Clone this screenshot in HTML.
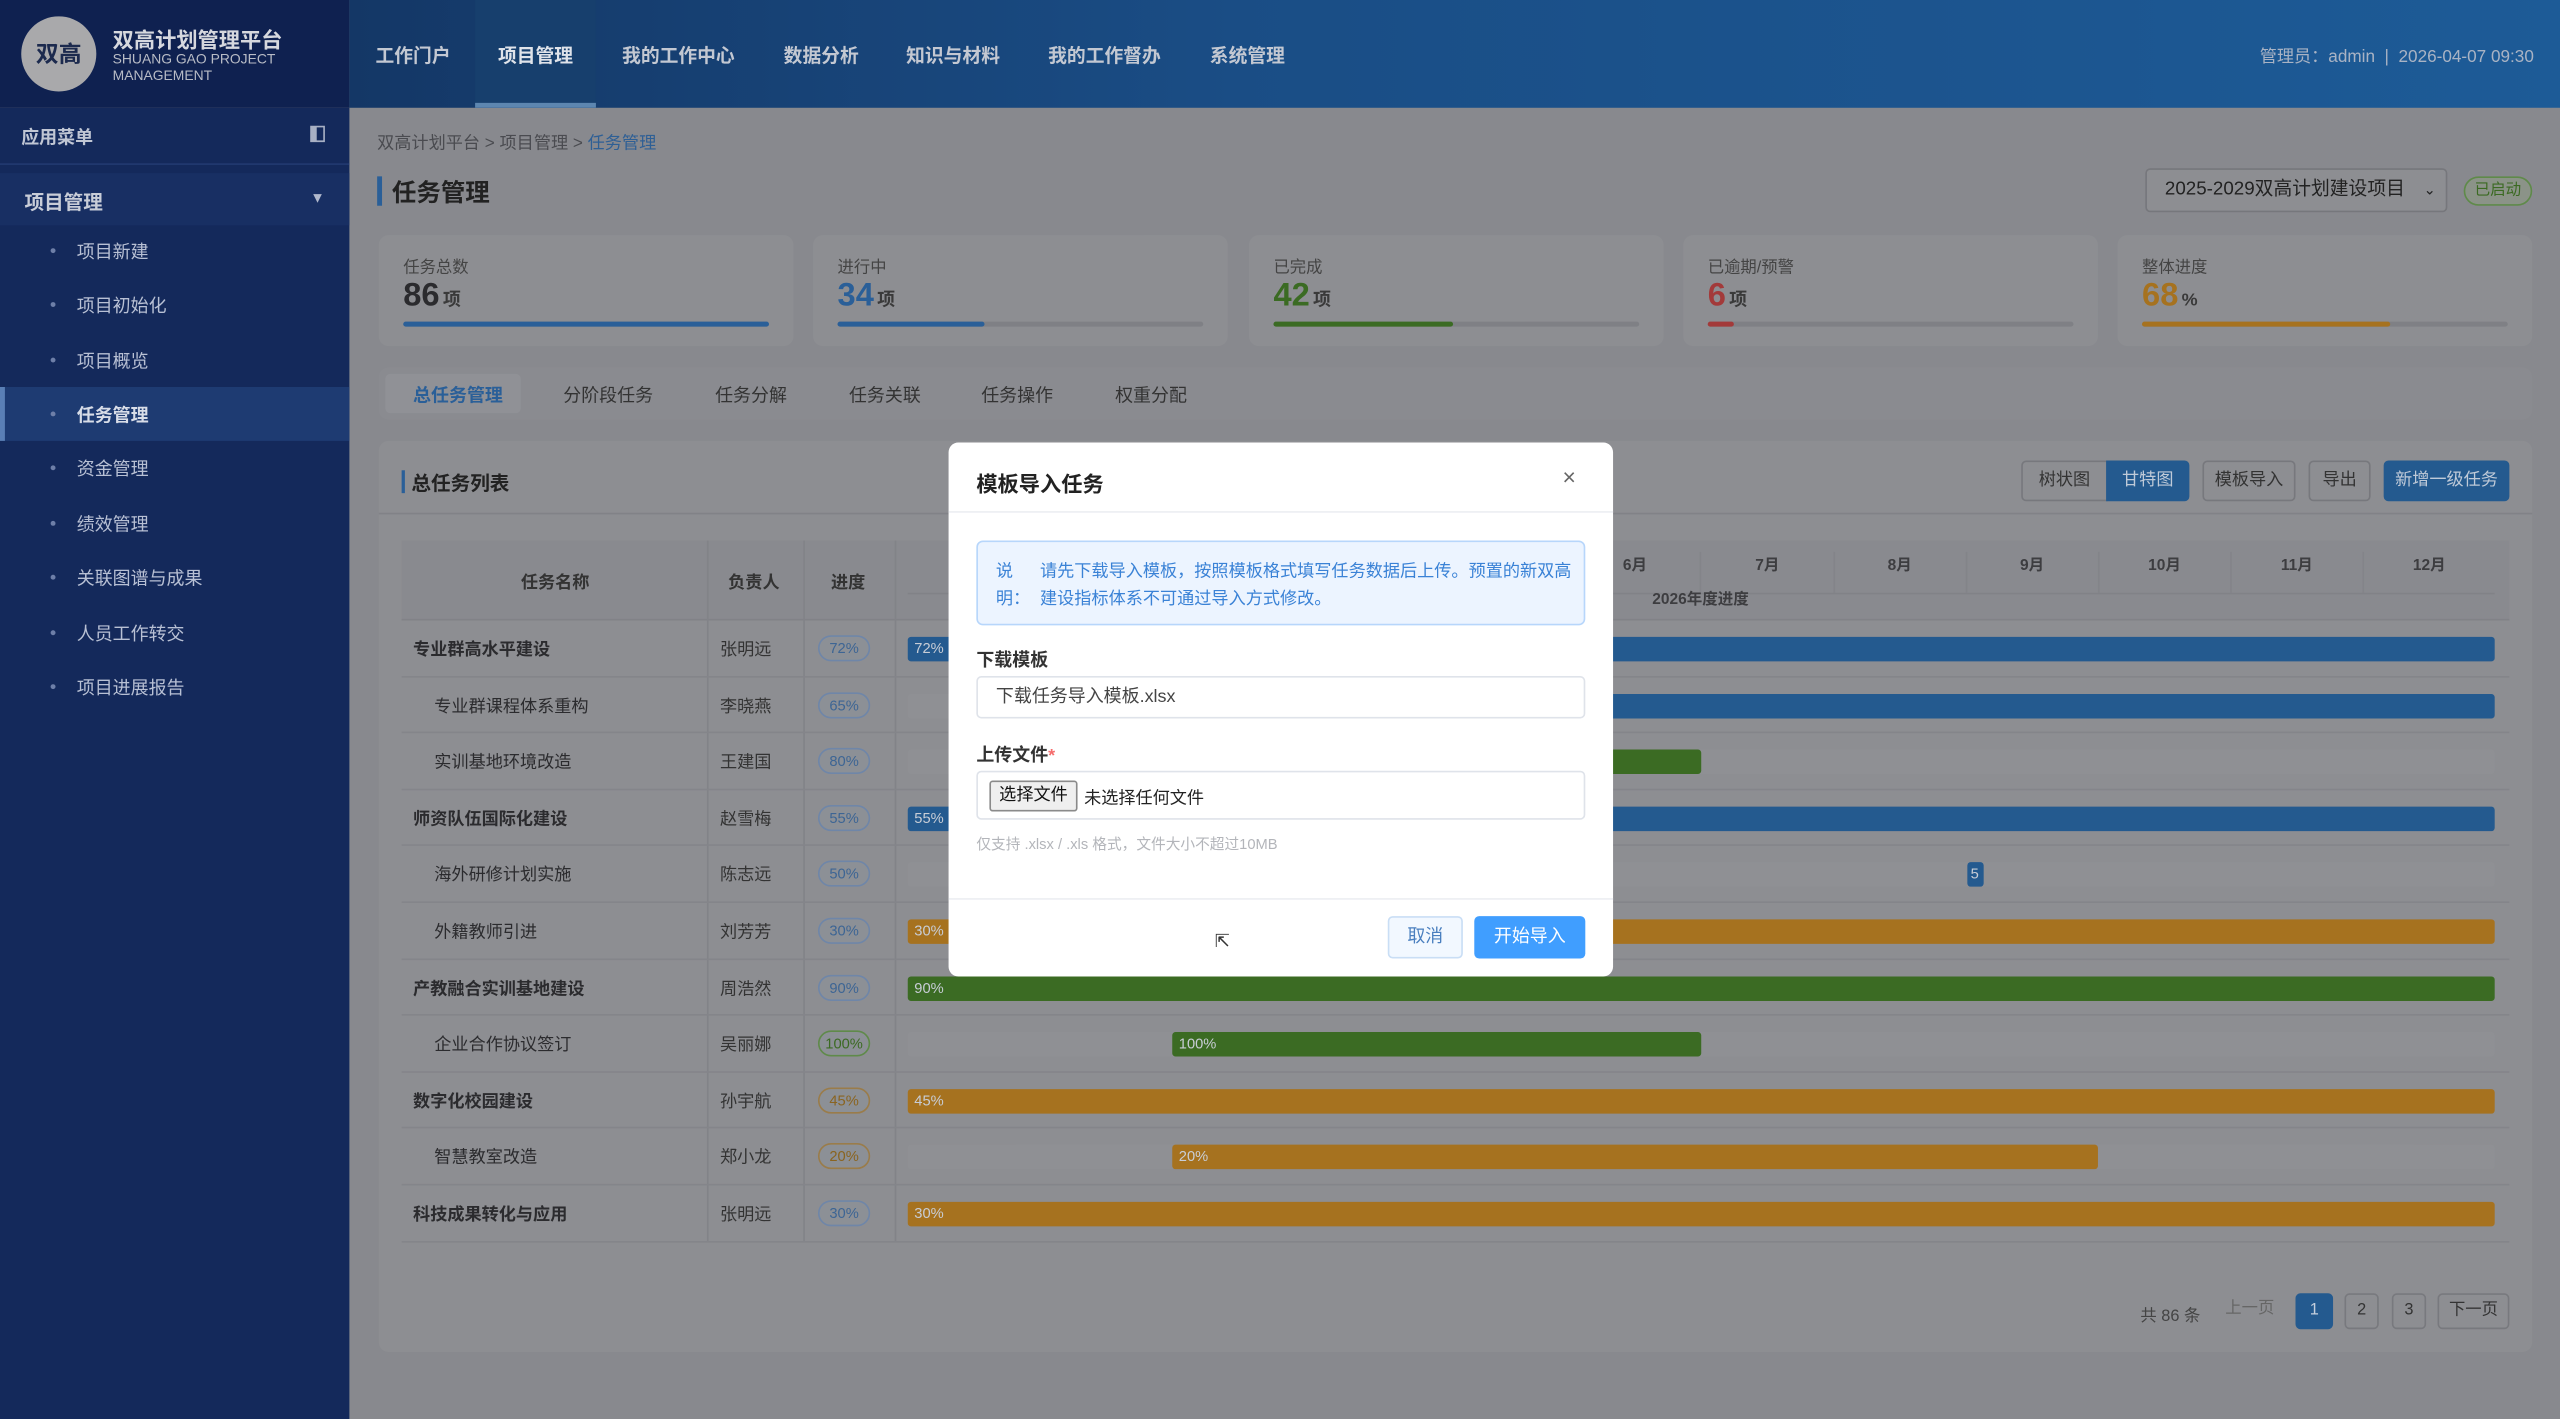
<!DOCTYPE html>
<html><head><meta charset="utf-8">
<style>
*{margin:0;padding:0;box-sizing:border-box}
html,body{width:2560px;height:1419px;overflow:hidden;background:#88898e}
#w{position:absolute;left:0;top:0;width:1568px;height:869px;transform:scale(1.63265,1.63291);transform-origin:0 0;font-family:"Liberation Sans","Noto Sans CJK SC",sans-serif;color:#2b2b2e;background:#88898e}
.a{position:absolute;white-space:nowrap}
.card{position:absolute;background:#8d8e92;border-radius:6px}
.stat .l{position:absolute;left:15px;top:11px;font-size:10px;color:#444}
.stat .v{position:absolute;left:15px;top:26px;font-size:20px;font-weight:bold}
.stat .v small{font-size:11px;color:#3a3a3a;margin-left:2px}
.stat .t{position:absolute;left:15px;top:53px;width:224px;height:3px;background:#7f8085;border-radius:2px}
.stat .t i{display:block;height:3px;border-radius:2px}
.nav{position:absolute;top:26px;font-size:11.5px;font-weight:bold;color:#c3c8d2}
.si{position:absolute;left:47px;font-size:11px;color:#b8c0d4}
.sb{position:absolute;left:31px;width:3px;height:3px;border-radius:50%;background:#6e7fa8}
.row{position:absolute;left:246px;width:1291px;height:34.6px;border-bottom:1px solid #84858a}
.row .n{position:absolute;left:7px;top:10px;font-size:10.5px}
.row .p{position:absolute;left:195px;top:10px;font-size:10.5px;color:#333}
.row .g{position:absolute;left:255px;top:9px;width:32px;height:16px;border:1px solid #6f86a8;border-radius:8px;font-size:9px;color:#3d6594;text-align:center;line-height:14px;background:#8c9096}
.row .tr{position:absolute;left:310px;top:10px;width:972px;height:15px;background:#8f9094;border-radius:2px}
.bar{position:absolute;top:10px;height:15px;border-radius:2px;font-size:9px;color:#c8cdd6;line-height:15px;padding-left:4px}
.B{background:#245a8f}.G{background:#3b6b23}.O{background:#a6721f}
.btn{position:absolute;top:282px;height:25px;border:1px solid #77787d;border-radius:3px;font-size:10.5px;line-height:23px;text-align:center;color:#333;background:#8d8e92}
.pg{position:absolute;top:792px;height:22px;border:1px solid #78797e;border-radius:3px;font-size:10px;line-height:20px;text-align:center;color:#333}
</style></head><body><div id="w">
<!-- header -->
<div class="a" style="left:0;top:0;width:214px;height:66px;background:#0f2150"></div>
<div class="a" style="left:214px;top:0;width:1354px;height:66px;background:linear-gradient(90deg,#143766,#1a4d85 40%,#1d5b97)"></div>
<div class="a" style="left:291px;top:0;width:74px;height:66px;background:#173f6d"></div>
<div class="a" style="left:291px;top:63px;width:74px;height:3px;background:#5d86b0"></div>
<div class="a" style="left:13px;top:10px;width:46px;height:46px;border-radius:50%;background:#a9a9ab;font-size:14px;font-weight:bold;color:#1c2a4e;text-align:center;line-height:46px">双高</div>
<div class="a" style="left:69px;top:14px;font-size:13px;font-weight:bold;color:#d6d8de">双高计划管理平台</div>
<div class="a" style="left:69px;top:31px;font-size:8.5px;color:#b8bcc6;line-height:10px">SHUANG GAO PROJECT<br>MANAGEMENT</div>
<div class="nav" style="left:230px">工作门户</div>
<div class="nav" style="left:305px;color:#dfe3ea">项目管理</div>
<div class="nav" style="left:381px">我的工作中心</div>
<div class="nav" style="left:480px">数据分析</div>
<div class="nav" style="left:555px">知识与材料</div>
<div class="nav" style="left:642px">我的工作督办</div>
<div class="nav" style="left:741px">系统管理</div>
<div class="a" style="right:16px;top:27px;font-size:10.5px;color:#a9b3c4">管理员：admin &nbsp;|&nbsp; 2026-04-07 09:30</div>
<!-- sidebar -->
<div class="a" style="left:0;top:66px;width:214px;height:803px;background:#14295b"></div>
<div class="a" style="left:13px;top:76px;font-size:11px;font-weight:bold;color:#c0c6d4">应用菜单</div>
<div class="a" style="left:190px;top:77px;width:9px;height:10px;border:1px solid #a8b0c4;border-left:4px solid #a8b0c4"></div>
<div class="a" style="left:0;top:100px;width:214px;height:1px;background:#223a70"></div>
<div class="a" style="left:0;top:106px;width:214px;height:32px;background:#182f63"></div>
<div class="a" style="left:15px;top:115px;font-size:12px;font-weight:bold;color:#c8cdd8">项目管理</div>
<div class="a" style="left:190px;top:116px;font-size:9px;color:#b0b8cc">▼</div>
<div class="a" style="left:0;top:237px;width:214px;height:33px;background:#1e3b72;border-left:3px solid #5a7fb5"></div>
<div class="sb" style="top:152px"></div><div class="si" style="top:146px">项目新建</div>
<div class="sb" style="top:185px"></div><div class="si" style="top:179px">项目初始化</div>
<div class="sb" style="top:219px"></div><div class="si" style="top:213px">项目概览</div>
<div class="sb" style="top:252px"></div><div class="si" style="top:246px;color:#d8dde8;font-weight:bold">任务管理</div>
<div class="sb" style="top:285px"></div><div class="si" style="top:279px">资金管理</div>
<div class="sb" style="top:319px"></div><div class="si" style="top:313px">绩效管理</div>
<div class="sb" style="top:352px"></div><div class="si" style="top:346px">关联图谱与成果</div>
<div class="sb" style="top:386px"></div><div class="si" style="top:380px">人员工作转交</div>
<div class="sb" style="top:419px"></div><div class="si" style="top:413px">项目进展报告</div>
<!-- content -->
<div class="a" style="left:231px;top:80px;font-size:10.5px;color:#4a4b50">双高计划平台 &gt; 项目管理 &gt; <span style="color:#2e5f95">任务管理</span></div>
<div class="a" style="left:231px;top:108px;width:3px;height:18px;background:#2a5f98"></div>
<div class="a" style="left:240px;top:107px;font-size:15px;font-weight:bold;color:#222">任务管理</div>
<div class="a" style="left:1314px;top:103px;width:185px;height:27px;border:1px solid #76777c;border-radius:3px;background:#8d8e92;font-size:11.5px;line-height:25px;padding-left:11px;color:#222">2025-2029双高计划建设项目<span style="position:absolute;right:6px;font-size:9px">⌄</span></div>
<div class="a" style="left:1509px;top:108px;width:42px;height:18px;border:1px solid #5f8a4a;border-radius:9px;font-size:9.5px;line-height:16px;text-align:center;color:#3b6a22;background:#8b9388">已启动</div>

<div class="card stat" style="left:232px;top:144px;width:254px;height:68px"><div class="l">任务总数</div><div class="v">86<small>项</small></div><div class="t"><i style="width:100%;background:#2a5f98"></i></div></div>
<div class="card stat" style="left:498px;top:144px;width:254px;height:68px"><div class="l">进行中</div><div class="v" style="color:#2a5f98">34<small>项</small></div><div class="t"><i style="width:40%;background:#2a5f98"></i></div></div>
<div class="card stat" style="left:765px;top:144px;width:254px;height:68px"><div class="l">已完成</div><div class="v" style="color:#3b6b23">42<small>项</small></div><div class="t"><i style="width:49%;background:#3b6b23"></i></div></div>
<div class="card stat" style="left:1031px;top:144px;width:254px;height:68px"><div class="l">已逾期/预警</div><div class="v" style="color:#a33a3a">6<small>项</small></div><div class="t"><i style="width:7%;background:#a33a3a"></i></div></div>
<div class="card stat" style="left:1297px;top:144px;width:254px;height:68px"><div class="l">整体进度</div><div class="v" style="color:#a6721f">68<small>%</small></div><div class="t"><i style="width:68%;background:#a6721f"></i></div></div>

<div class="card" style="left:232px;top:225px;width:1319px;height:32px;background:#8a8b90"></div>
<div class="a" style="left:236px;top:229px;width:83px;height:24px;background:#909196;border-radius:3px"></div>
<div class="a" style="left:253px;top:234px;font-size:11px;font-weight:bold;color:#2a5f98">总任务管理</div>
<div class="a" style="left:345px;top:234px;font-size:11px;color:#333">分阶段任务</div>
<div class="a" style="left:438px;top:234px;font-size:11px;color:#333">任务分解</div>
<div class="a" style="left:520px;top:234px;font-size:11px;color:#333">任务关联</div>
<div class="a" style="left:601px;top:234px;font-size:11px;color:#333">任务操作</div>
<div class="a" style="left:683px;top:234px;font-size:11px;color:#333">权重分配</div>

<div class="card" style="left:232px;top:270px;width:1319px;height:558px"></div>
<div class="a" style="left:246px;top:288px;width:2px;height:14px;background:#2a5f98"></div>
<div class="a" style="left:252px;top:287px;font-size:12px;font-weight:bold;color:#222">总任务列表</div>
<div class="btn" style="left:1238px;width:53px;border-radius:3px 0 0 3px">树状图</div>
<div class="btn" style="left:1290px;width:51px;background:#245a8f;color:#bfcad8;border-color:#245a8f;border-radius:0 3px 3px 0">甘特图</div>
<div class="btn" style="left:1349px;width:57px">模板导入</div>
<div class="btn" style="left:1414px;width:38px">导出</div>
<div class="btn" style="left:1460px;width:77px;background:#245a8f;color:#bfcad8;border-color:#245a8f">新增一级任务</div>
<div class="a" style="left:232px;top:314px;width:1319px;height:1px;background:#818287"></div>

<div class="a" style="left:246px;top:331px;width:1291px;height:49px;background:#898a8f;border-bottom:1px solid #818287"></div>
<div class="a" style="left:319px;top:349px;font-size:10.5px;font-weight:bold;color:#333">任务名称</div>
<div class="a" style="left:446px;top:349px;font-size:10.5px;font-weight:bold;color:#333">负责人</div>
<div class="a" style="left:509px;top:349px;font-size:10.5px;font-weight:bold;color:#333">进度</div>
<div class="a" style="left:556px;top:338px;width:972px;height:26px;border-bottom:1px solid #818287;display:flex;font-size:9.5px;font-weight:bold;color:#3d3d40">
<div style="flex:1;text-align:center;line-height:18px;border-right:1px solid #838489">1月</div><div style="flex:1;text-align:center;line-height:18px;border-right:1px solid #838489">2月</div><div style="flex:1;text-align:center;line-height:18px;border-right:1px solid #838489">3月</div><div style="flex:1;text-align:center;line-height:18px;border-right:1px solid #838489">4月</div><div style="flex:1;text-align:center;line-height:18px;border-right:1px solid #838489">5月</div><div style="flex:1;text-align:center;line-height:18px;border-right:1px solid #838489">6月</div><div style="flex:1;text-align:center;line-height:18px;border-right:1px solid #838489">7月</div><div style="flex:1;text-align:center;line-height:18px;border-right:1px solid #838489">8月</div><div style="flex:1;text-align:center;line-height:18px;border-right:1px solid #838489">9月</div><div style="flex:1;text-align:center;line-height:18px;border-right:1px solid #838489">10月</div><div style="flex:1;text-align:center;line-height:18px;border-right:1px solid #838489">11月</div><div style="flex:1;text-align:center;line-height:18px">12月</div></div>
<div class="a" style="left:1012px;top:359px;font-size:9.5px;font-weight:bold;color:#3d3d40">2026年度进度</div>
<div class="a" style="left:433px;top:331px;width:1px;height:429px;background:#828388"></div>
<div class="a" style="left:492px;top:331px;width:1px;height:429px;background:#828388"></div>
<div class="a" style="left:548px;top:331px;width:1px;height:429px;background:#828388"></div>

<div class="row" style="top:380px"><div class="n" style="font-weight:bold">专业群高水平建设</div><div class="p">张明远</div><div class="g">72%</div><div class="tr"></div><div class="bar B" style="left:310px;width:972px">72%</div></div>
<div class="row" style="top:414.6px"><div class="n" style="left:20px">专业群课程体系重构</div><div class="p">李晓燕</div><div class="g">65%</div><div class="tr"></div><div class="bar B" style="left:472px;width:810px">65%</div></div>
<div class="row" style="top:449.2px"><div class="n" style="left:20px">实训基地环境改造</div><div class="p">王建国</div><div class="g">80%</div><div class="tr"></div><div class="bar G" style="left:472px;width:324px">80%</div></div>
<div class="row" style="top:483.8px"><div class="n" style="font-weight:bold">师资队伍国际化建设</div><div class="p">赵雪梅</div><div class="g">55%</div><div class="tr"></div><div class="bar B" style="left:310px;width:972px">55%</div></div>
<div class="row" style="top:518.4px"><div class="n" style="left:20px">海外研修计划实施</div><div class="p">陈志远</div><div class="g">50%</div><div class="tr"></div><div class="bar B" style="left:959px;width:10px;padding-left:2px">5</div></div>
<div class="row" style="top:553px"><div class="n" style="left:20px">外籍教师引进</div><div class="p">刘芳芳</div><div class="g">30%</div><div class="tr"></div><div class="bar O" style="left:310px;width:972px">30%</div></div>
<div class="row" style="top:587.6px"><div class="n" style="font-weight:bold">产教融合实训基地建设</div><div class="p">周浩然</div><div class="g">90%</div><div class="tr"></div><div class="bar G" style="left:310px;width:972px">90%</div></div>
<div class="row" style="top:622.2px"><div class="n" style="left:20px">企业合作协议签订</div><div class="p">吴丽娜</div><div class="g" style="border-color:#5f8a4a;color:#3b6a22">100%</div><div class="tr"></div><div class="bar G" style="left:472px;width:324px">100%</div></div>
<div class="row" style="top:656.8px"><div class="n" style="font-weight:bold">数字化校园建设</div><div class="p">孙宇航</div><div class="g" style="border-color:#9a7c4a;color:#8a6420">45%</div><div class="tr"></div><div class="bar O" style="left:310px;width:972px">45%</div></div>
<div class="row" style="top:691.4px"><div class="n" style="left:20px">智慧教室改造</div><div class="p">郑小龙</div><div class="g" style="border-color:#9a7c4a;color:#8a6420">20%</div><div class="tr"></div><div class="bar O" style="left:472px;width:567px">20%</div></div>
<div class="row" style="top:726px"><div class="n" style="font-weight:bold">科技成果转化与应用</div><div class="p">张明远</div><div class="g">30%</div><div class="tr"></div><div class="bar O" style="left:310px;width:972px">30%</div></div>

<div class="a" style="left:1311px;top:797px;font-size:10px;color:#444">共 86 条</div>
<div class="pg" style="left:1358px;width:40px;border:none;color:#666">上一页</div>
<div class="pg" style="left:1406px;width:23px;background:#245a8f;border-color:#245a8f;color:#c5cfdc">1</div>
<div class="pg" style="left:1436px;width:21px">2</div>
<div class="pg" style="left:1465px;width:21px">3</div>
<div class="pg" style="left:1493px;width:44px">下一页</div>

<!-- modal -->
<div class="a" style="left:581px;top:271px;width:407px;height:327px;background:#fff;border-radius:6px"></div>
<div class="a" style="left:598px;top:286px;font-size:13px;font-weight:bold;color:#222">模板导入任务</div>
<div class="a" style="left:957px;top:284px;font-size:14px;color:#666">×</div>
<div class="a" style="left:581px;top:313px;width:407px;height:1px;background:#eceef2"></div>
<div class="a" style="left:598px;top:331px;width:373px;height:52px;background:#ecf4ff;border:1px solid #b7d6fb;border-radius:4px"></div>
<div class="a" style="left:610px;top:342px;font-size:10.5px;color:#3a82d6;line-height:17px">说<br>明：</div>
<div class="a" style="left:637px;top:342px;font-size:10.5px;color:#3a82d6;line-height:17px">请先下载导入模板，按照模板格式填写任务数据后上传。预置的新双高<br>建设指标体系不可通过导入方式修改。</div>
<div class="a" style="left:598px;top:396px;font-size:11px;font-weight:bold;color:#333">下载模板</div>
<div class="a" style="left:598px;top:414px;width:373px;height:26px;border:1px solid #dfe3ea;border-radius:3px;font-size:11px;line-height:24px;padding-left:11px;color:#444">下载任务导入模板.xlsx</div>
<div class="a" style="left:598px;top:454px;font-size:11px;font-weight:bold;color:#333">上传文件<span style="color:#f56c6c">*</span></div>
<div class="a" style="left:598px;top:472px;width:373px;height:30px;border:1px solid #dfe3ea;border-radius:3px"></div>
<div class="a" style="left:606px;top:478px;width:54px;height:19px;border:1px solid #8a8a8a;border-radius:2px;background:#efefef;font-size:10.5px;line-height:17px;text-align:center;color:#111">选择文件</div>
<div class="a" style="left:664px;top:481px;font-size:10.5px;color:#222">未选择任何文件</div>
<div class="a" style="left:598px;top:510px;font-size:9px;color:#b3b5ba">仅支持 .xlsx / .xls 格式，文件大小不超过10MB</div>
<div class="a" style="left:581px;top:550px;width:407px;height:1px;background:#eceef2"></div>
<div class="a" style="left:850px;top:561px;width:46px;height:26px;background:#f2f8ff;border:1px solid #c9def5;border-radius:3px;font-size:11px;line-height:24px;text-align:center;color:#4a7fbf">取消</div>
<div class="a" style="left:903px;top:561px;width:68px;height:26px;background:#409eff;border-radius:3px;font-size:11px;line-height:26px;text-align:center;color:#fff">开始导入</div>
<div class="a" style="left:744px;top:570px;font-size:11px;color:#333">⇱</div>
</div></body></html>
